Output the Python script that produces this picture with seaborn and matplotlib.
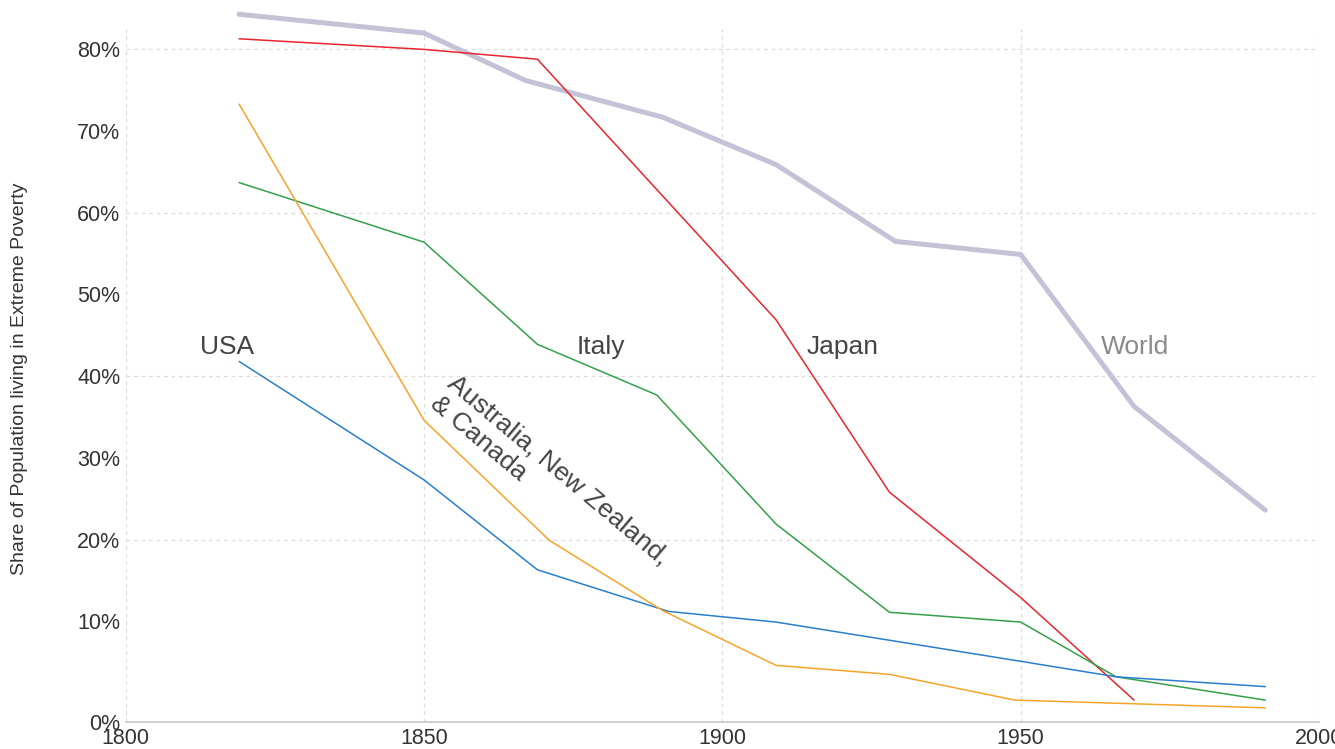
import numpy as np
import pandas as pd
import matplotlib
matplotlib.use('Agg')
import matplotlib.pyplot as plt
import seaborn as sns

sns.set_style('white')
plt.rcParams['font.family'] = ['Liberation Sans', 'DejaVu Sans']

# share of population living in extreme poverty (%)
world_years = [1819, 1850, 1867, 1890, 1909, 1929, 1950, 1969, 1991]
world_share = [84.3, 82.0, 76.2, 71.7, 65.9, 56.5, 54.9, 36.3, 23.6]

japan_years = [1819, 1850, 1869, 1909, 1928, 1950, 1969]
japan_share = [81.3, 80.0, 78.8, 46.9, 25.8, 12.9, 0.35]

italy_years = [1819, 1850, 1869, 1889, 1909, 1928, 1950, 1966, 1991]
italy_share = [63.7, 56.4, 43.9, 37.7, 21.9, 11.1, 9.9, 3.2, 0.35]

usa_years = [1819, 1850, 1869, 1891, 1909, 1950, 1966, 1991]
usa_share = [41.8, 27.3, 16.3, 11.2, 9.9, 5.1, 3.2, 2.0]

anzc_years = [1819, 1850, 1871, 1890, 1909, 1928, 1949, 1991]
anzc_share = [73.3, 34.6, 19.9, 11.3, 4.6, 3.5, 0.35, -0.6]

series = [
    ('World', world_years, world_share, '#c3c2d6', 3.6),
    ('Japan', japan_years, japan_share, '#e8262f', 1.1),
    ('Italy', italy_years, italy_share, '#34a04a', 1.1),
    ('USA', usa_years, usa_share, '#2a7fcb', 1.1),
    ('Australia, New Zealand, & Canada', anzc_years, anzc_share, '#f7a42a', 1.1),
]

y_bottom, y_top = -2.3, 82.5
ytick_vals = [10, 20, 30, 40, 50, 60, 70, 80]
xtick_vals = [1800, 1850, 1900, 1950, 2000]
grid_y = [20, 40, 60, 80]

fig = plt.figure(figsize=(13.35, 7.49), dpi=100)
ax = fig.add_axes([0.0942, 0.0364, 0.8938, 0.9249])

for name, yrs, vals, col, lw in series:
    df = pd.DataFrame({'year': yrs, 'share': vals})
    sns.lineplot(data=df, x='year', y='share', ax=ax, color=col,
                 linewidth=lw, clip_on=False, zorder=3)

grid_kw = dict(color='#dcdcdc', linestyle=(0, (3, 3)), linewidth=0.9, zorder=1)
for gy in grid_y:
    ax.axhline(gy, **grid_kw)
for gx in xtick_vals:
    ax.axvline(gx, **grid_kw)

ax.set_xlim(1800, 2000)
ax.set_ylim(y_bottom, y_top)
ax.set_xticks(xtick_vals)
ax.set_xticklabels([str(x) for x in xtick_vals])
ax.set_yticks([y_bottom] + ytick_vals)
ax.set_yticklabels(['0%'] + [f'{v}%' for v in ytick_vals])
ax.tick_params(axis='both', length=0, labelsize=15.5, labelcolor='#333333')
ax.tick_params(axis='y', pad=4)
ax.tick_params(axis='x', pad=4.5)

for side in ['left', 'right', 'top']:
    ax.spines[side].set_visible(False)
ax.spines['bottom'].set_color('#cccccc')
ax.spines['bottom'].set_linewidth(1.3)

ax.set_xlabel('')
ax.set_ylabel('Share of Population living in Extreme Poverty',
              fontsize=14, color='#333333')
ax.yaxis.set_label_coords(-0.082, 0.495)

lab_kw = dict(fontsize=19, ha='center', va='center', zorder=4)
ax.text(1817, 43.6, 'USA', color='#444444', **lab_kw)
ax.text(1879.6, 43.6, 'Italy', color='#444444', **lab_kw)
ax.text(1920.1, 43.6, 'Japan', color='#444444', **lab_kw)
ax.text(1969.1, 43.6, 'World', color='#8a8a8a', **lab_kw)
ax.text(1871.0, 27.2, 'Australia, New Zealand,\n& Canada', color='#444444',
        rotation=-40, rotation_mode='anchor', multialignment='left',
        linespacing=1.12, **lab_kw)

fig.savefig('out.png', dpi=100)
